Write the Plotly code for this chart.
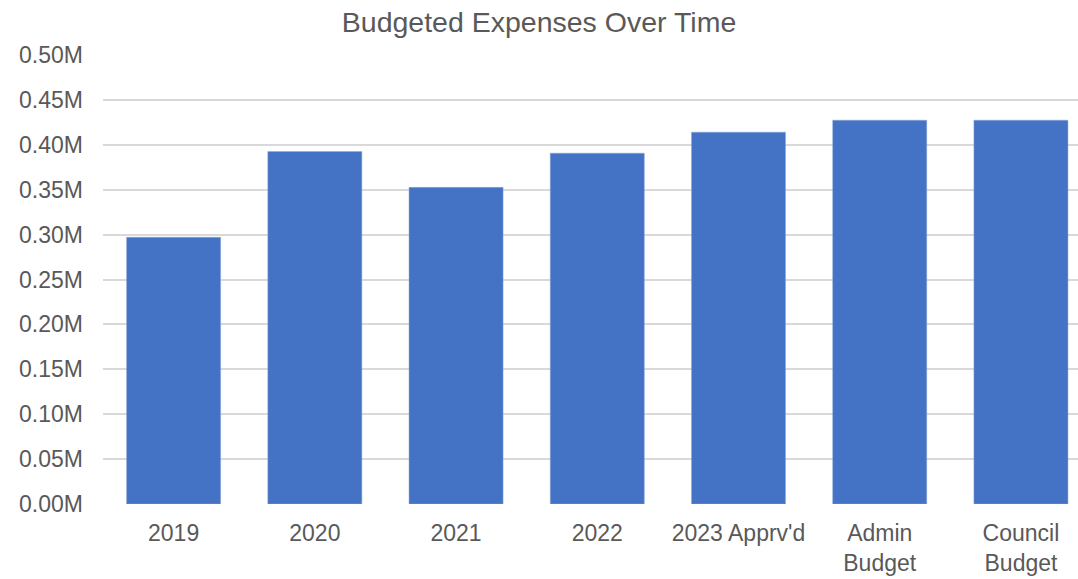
import plotly.graph_objects as go

categories = ["2019", "2020", "2021", "2022", "2023 Apprv'd", "Admin<br>Budget", "Council<br>Budget"]
expenses_m = [0.297, 0.3926, 0.3526, 0.3907, 0.4141, 0.4274, 0.4274]
y_ticks = [0.0, 0.05, 0.10, 0.15, 0.20, 0.25, 0.30, 0.35, 0.40, 0.45, 0.50]

text_color = "#595959"
font_family = "Liberation Sans, Arial, sans-serif"

fig = go.Figure(
    go.Bar(
        x=list(range(len(categories))),
        y=expenses_m,
        marker=dict(color="#4472C4", line=dict(color="#8EA9DB", width=0.5)),
        width=0.666,
    )
)

fig.update_layout(
    width=1078,
    height=579,
    paper_bgcolor="white",
    plot_bgcolor="white",
    margin=dict(l=103, r=0, t=55, b=75, autoexpand=False),
    title=dict(
        text="Budgeted Expenses Over Time",
        x=0.5,
        xanchor="center",
        y=1 - 22 / 579,
        yanchor="middle",
        yref="container",
        font=dict(family=font_family, size=28.5, color=text_color),
    ),
    font=dict(family=font_family, color=text_color),
    showlegend=False,
    bargap=0.334,
)

fig.update_xaxes(
    tickmode="array",
    tickvals=list(range(len(categories))),
    ticktext=categories,
    range=[-0.5, 6.404],
    showgrid=False,
    zeroline=False,
    showline=False,
    ticks="",
    ticklabelstandoff=13,
    automargin=False,
    tickfont=dict(family=font_family, size=23, color=text_color),
)

fig.update_yaxes(
    range=[0, 0.5],
    tickmode="array",
    tickvals=y_ticks,
    ticktext=[f"{v:.2f}M" for v in y_ticks],
    showgrid=True,
    gridcolor="#D9D9D9",
    gridwidth=1.5,
    zeroline=False,
    showline=False,
    ticks="",
    ticklabelstandoff=19,
    automargin=False,
    tickfont=dict(family=font_family, size=23, color=text_color),
)

fig.write_html(
    "out.html",
    config={"displayModeBar": False},
    post_script="document.body.style.margin='0';document.body.style.overflow='hidden';",
)
